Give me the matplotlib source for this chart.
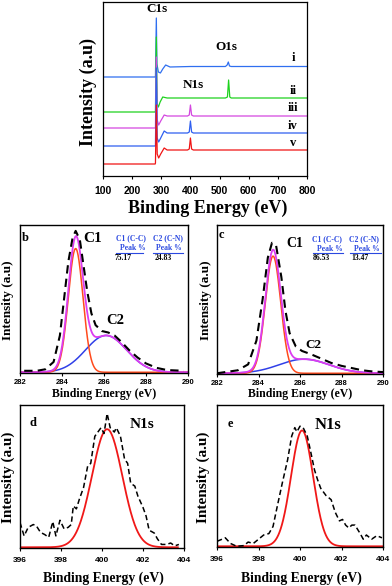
import numpy as np
import matplotlib
matplotlib.use("Agg")
import matplotlib.pyplot as plt
from matplotlib.lines import Line2D

W, H = 392, 586
SERIF = "Liberation Serif"
SANS = "Liberation Sans"

# ---------------- survey spectra (panel a) ----------------
survey_labels = ["i", "ii", "iii", "iv", "v"]
survey_colors = ["#2f6ff0", "#1ed21e", "#d447e0", "#2f5ff0", "#f01414"]
sp_i_x = [100, 279, 280, 283, 285, 290, 297, 305, 315, 330, 400, 520, 526, 530, 534, 540, 650, 800]
sp_i_y = [99, 99, 100, 158, 112, 104, 103, 107, 111, 109, 109.5, 109.5, 111, 114, 110, 109.5, 109.5, 109.5]
sp_ii_x = [100, 279, 280, 283, 286, 290, 296, 305, 320, 520, 527, 531, 535, 540, 800]
sp_ii_y = [64, 64, 65, 139, 72, 69, 74, 79, 78, 78, 79, 96, 79, 78, 78]
sp_iii_x = [100, 279, 280, 283, 286, 291, 298, 310, 320, 390, 396, 400, 404, 410, 800]
sp_iii_y = [48, 48, 49, 119, 56, 51, 55, 61, 60, 60, 61, 71, 61, 60, 60]
sp_iv_y = [30, 30, 31, 108, 38, 34, 38, 45, 43, 43, 44, 55, 44, 43, 43]
sp_v_y = [12, 12, 13, 71, 22, 18, 22, 28, 26, 26, 27, 38, 27, 26, 26]
survey_x = [sp_i_x, sp_ii_x, sp_iii_x, sp_iii_x, sp_iii_x]
survey_y = [sp_i_y, sp_ii_y, sp_iii_y, sp_iv_y, sp_v_y]
survey_ticks = [100, 200, 300, 400, 500, 600, 700, 800]

# ---------------- C1s panels (b, c) ----------------
b_x = [282.2, 282.8, 283.2, 283.6, 283.9, 284.1, 284.3, 284.5, 284.65, 284.85, 285.0, 285.2,
       285.4, 285.6, 285.9, 286.2, 286.5, 286.8, 287.2, 287.6, 288.0, 288.5, 289.0, 289.8]
b_y = [0.01, 0.01, 0.02, 0.07, 0.25, 0.50, 0.75, 0.91, 0.96, 0.90, 0.75, 0.55,
       0.40, 0.32, 0.28, 0.27, 0.25, 0.21, 0.15, 0.10, 0.06, 0.03, 0.015, 0.01]
b_c1 = (284.65, 0.84, 0.35)   # center, height, sigma
b_c2 = (286.1, 0.25, 0.98)
b_pct = ("75.17", "24.83")

c_x = [282.0, 282.5, 283.0, 283.5, 283.9, 284.2, 284.45, 284.65, 284.85, 285.1, 285.3, 285.5,
       285.8, 286.1, 286.5, 287.0, 287.5, 288.0, 288.5, 289.0, 289.5, 290.0]
c_y = [0.0, 0.01, 0.02, 0.06, 0.22, 0.50, 0.78, 0.88, 0.86, 0.65, 0.42, 0.27,
       0.18, 0.15, 0.13, 0.10, 0.07, 0.05, 0.035, 0.02, 0.012, 0.008]
c_c1 = (284.7, 0.79, 0.37)
c_c2 = (286.2, 0.095, 1.2)
c_pct = ("86.53", "13.47")
c_ticks = [282, 284, 286, 288, 290]

# ---------------- N1s panels (d, e) ----------------
d_x = [396.0, 396.2, 396.4, 396.65, 396.8, 397.0, 397.2, 397.4, 397.6, 397.75, 397.95, 398.15,
       398.35, 398.5, 398.6, 398.75, 398.9, 399.1, 399.3, 399.45, 399.65, 399.8, 399.95, 400.1,
       400.25, 400.4, 400.6, 400.7, 400.9, 401.1, 401.25, 401.4, 401.6, 401.75, 402.0, 402.15,
       402.3, 402.55, 402.7, 402.9, 403.15, 403.35, 403.55, 403.75]
d_y = [0.174, 0.08, 0.14, 0.16, 0.15, 0.105, 0.09, 0.07, 0.18, 0.08, 0.19, 0.13,
       0.14, 0.16, 0.29, 0.27, 0.34, 0.42, 0.57, 0.59, 0.78, 0.81, 0.84, 0.80,
       0.94, 0.84, 0.81, 0.84, 0.78, 0.62, 0.59, 0.45, 0.43, 0.36, 0.28, 0.22,
       0.12, 0.10, 0.06, 0.02, 0.02, 0.03, 0.01, 0.02]
d_fit = (400.25, 0.83, 0.74)
d_fit_range = (396.0, 403.7)

e_x = [396.0, 396.4, 396.65, 396.95, 397.3, 397.5, 397.75, 398.0, 398.25, 398.5, 398.7, 398.9,
       399.15, 399.4, 399.6, 399.75, 399.85, 400.0, 400.15, 400.35, 400.5, 400.7, 400.85, 401.0,
       401.25, 401.5, 401.7, 401.9, 402.05, 402.2, 402.35, 402.5, 402.65, 402.9, 403.05, 403.2,
       403.45, 403.7, 403.95]
e_y = [0.035, 0.06, 0.02, 0.0, 0.005, 0.03, 0.02, 0.05, 0.08, 0.09, 0.14, 0.28,
       0.45, 0.61, 0.78, 0.84, 0.81, 0.85, 0.84, 0.78, 0.68, 0.54, 0.47, 0.41,
       0.36, 0.33, 0.24, 0.18, 0.19, 0.15, 0.13, 0.15, 0.15, 0.09, 0.05, 0.08,
       0.05, 0.075, 0.06]
e_fit = (400.1, 0.82, 0.53)
e_fit_range = (396.0, 404.0)
n_ticks = [396, 398, 400, 402, 404]


def gauss(x, p):
    c, h, s = p
    return h * np.exp(-(x - c) ** 2 / (2 * s * s))


fig = plt.figure(figsize=(W / 100, H / 100), dpi=100)


def add_ax(l, r, t, b):
    return fig.add_axes([l / W, 1 - b / H, (r - l) / W, (b - t) / H])


def ftext(px, py, s, size, color="black", ha="center", family=SERIF, rotation=0):
    fig.text(px / W, 1 - py / H, s, fontsize=size, color=color, ha=ha, va="center",
             fontweight="bold", family=family, rotation=rotation)


def uline(x0, x1, py, color):
    fig.add_artist(Line2D([x0 / W, x1 / W], [1 - py / H, 1 - py / H], color=color, lw=0.8,
                          transform=fig.transFigure))


def style(ax, ticks, tsize, lw=1.0, pad=2):
    ax.set_xticks(ticks)
    ax.set_yticks([])
    ax.tick_params(axis="x", direction="out", length=2.5, width=0.8, pad=pad, labelsize=tsize)
    for lab in ax.get_xticklabels():
        lab.set_fontweight("bold")
        lab.set_family(SANS)
    for sp in ax.spines.values():
        sp.set_linewidth(lw)


# ---- panel a ----
ax = add_ax(103, 307, 2, 176)
for xs, ys, col in zip(survey_x, survey_y, survey_colors):
    ax.plot(xs, ys, color=col, lw=0.9)
ax.set_xlim(100, 800)
ax.set_ylim(0, 174)
style(ax, survey_ticks, 7.5, lw=0.9, pad=5)
ftext(208, 208, "Binding Energy (eV)", 13)
ftext(88, 92, "Intensity (a.u)", 13, rotation=90)
for lab, py in zip(survey_labels, [58, 91, 108, 126, 143]):
    ax.text(752, 176 - py, lab, fontsize=9, fontweight="bold", family=SERIF, ha="center", va="center")
ax.text(285, 176 - 9, "C1s", fontsize=9.5, fontweight="bold", family=SERIF, ha="center", va="center")
ax.text(525, 176 - 47, "O1s", fontsize=9.5, fontweight="bold", family=SERIF, ha="center", va="center")
ax.text(409, 176 - 85, "N1s", fontsize=9.5, fontweight="bold", family=SERIF, ha="center", va="center")

# ---- panels b, c ----
for (l, r, t, b), xs, ys, p1, p2, ylx in [((20, 188, 225, 373), b_x, b_y, b_c1, b_c2, 8),
                                          ((217, 383, 225, 374), c_x, c_y, c_c1, c_c2, 206)]:
    ax = add_ax(l, r, t, b)
    xx = np.linspace(282, 290, 400)
    ax.plot(xx, gauss(xx, p2), color="#3040e8", lw=1.1)
    ax.plot(xx, gauss(xx, p1), color="#ff4a1c", lw=1.1)
    ax.plot(xx, gauss(xx, p1) + gauss(xx, p2), color="#dc3cf0", lw=1.3)
    ax.plot(xs, ys, color="black", lw=1.5, ls=(0, (4, 2.5)))
    ax.set_xlim(282, 290)
    ax.set_ylim(-0.005, 1)
    style(ax, c_ticks, 5.5)
    ftext((l + r) / 2, 394, "Binding Energy (eV)", 8.5)
    ftext(ylx, 300, "Intensity (a.u)", 9.5, rotation=90)

BLUE = "#2a48e0"
# panel b annotations
ftext(25, 238, "b", 9)
ftext(93, 238, "C1", 11)
ftext(115, 320, "C2", 10.5)
ftext(131, 238, "C1 (C-C)", 5.5, BLUE)
ftext(168, 238, "C2 (C-N)", 5.5, BLUE)
ftext(133, 248, "Peak %", 5.5, BLUE)
ftext(169, 248, "Peak %", 5.5, BLUE)
uline(116, 143, 252.5, BLUE)
uline(153, 183, 252.5, BLUE)
ftext(123, 257.5, b_pct[0], 5.5)
ftext(163, 257.5, b_pct[1], 5.5)
# panel c annotations
ftext(221, 235, "c", 9)
ftext(295, 243, "C1", 10)
ftext(313, 345, "C2", 9.5)
ftext(327, 239, "C1 (C-C)", 5.5, BLUE)
ftext(364, 239, "C2 (C-N)", 5.5, BLUE)
ftext(330, 249, "Peak %", 5.5, BLUE)
ftext(367, 249, "Peak %", 5.5, BLUE)
uline(313, 343, 253.5, BLUE)
uline(350, 381, 253.5, BLUE)
ftext(321, 258.5, c_pct[0], 5.5)
ftext(360, 258.5, c_pct[1], 5.5)

# ---- panels d, e ----
for (l, r, t, b), xs, ys, pf, rng, ylx in [((20, 184, 405, 548), d_x, d_y, d_fit, d_fit_range, 8),
                                           ((217, 383, 405, 547), e_x, e_y, e_fit, e_fit_range, 203)]:
    ax = add_ax(l, r, t, b)
    xx = np.linspace(rng[0], rng[1], 400)
    ax.plot(xx, gauss(xx, pf), color="#f01818", lw=1.3)
    ax.plot(xs, ys, color="black", lw=1.1, ls=(0, (3.5, 2)))
    ax.set_xlim(396, 404)
    ax.set_ylim(-0.005, 1)
    style(ax, n_ticks, 6, pad=4)
    ftext((l + r) / 2 + 1, 578, "Binding Energy (eV)", 9.8)
    ftext(ylx, 477, "Intensity (a.u)", 11, rotation=90)

ftext(33, 423, "d", 9)
ftext(142, 424, "N1s", 11)
ftext(230, 424, "e", 9)
ftext(328, 425, "N1s", 12)

fig.savefig("out.png", dpi=100)
